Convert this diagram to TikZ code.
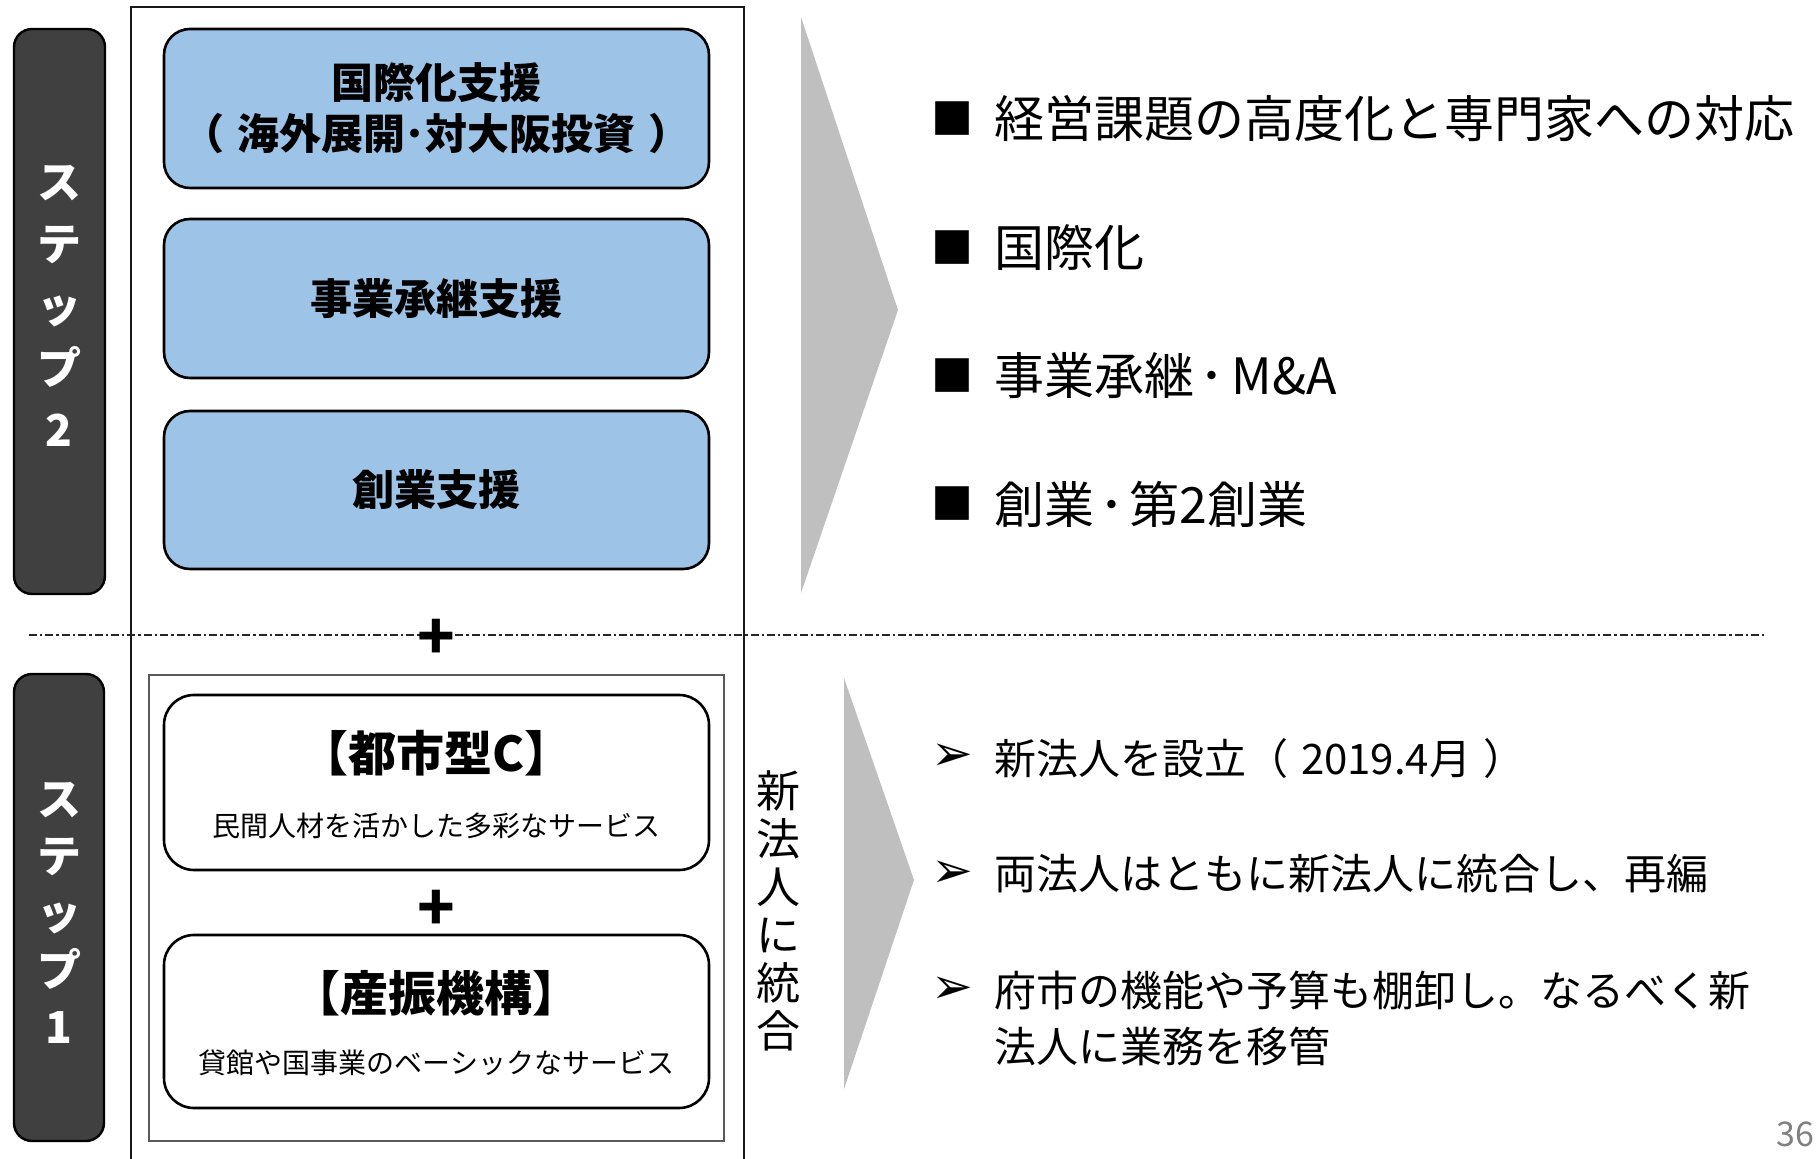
\documentclass[tikz,border=0pt]{standalone}
\usepackage{fontspec}
\setmainfont{Noto Sans CJK JP}
\newfontfamily\dvfont{DejaVu Sans}
\definecolor{stepgray}{HTML}{404040}
\definecolor{boxblue}{HTML}{9DC3E6}
\definecolor{arrowgray}{HTML}{BFBFBF}
\definecolor{numgray}{HTML}{808080}
\definecolor{framegray}{HTML}{595959}
\tikzset{
  stepbox/.style={draw=black, line width=1.2pt, fill=stepgray, rounded corners=9pt, inner sep=0pt},
  steplabel/.style={text=white, align=center, font=\bfseries\fontsize{22}{31}\selectfont},
  bluebox/.style={draw=black, line width=1.3pt, fill=boxblue, rounded corners=13pt, minimum width=272.5pt, align=center, font=\bfseries\fontsize{21}{25.5}\selectfont},
  whitebox/.style={draw=black, line width=1.3pt, fill=white, rounded corners=15pt, minimum width=272.5pt, inner sep=0pt},
  boxtitle/.style={font=\bfseries\fontsize{24}{26}\selectfont},
  boxsub/.style={font=\fontsize{14}{16}\selectfont},
  plusmark/.style={font=\bfseries\fontsize{31}{31}\selectfont, inner sep=0pt},
  bigitem/.style={anchor=west, inner sep=0pt, font=\fontsize{25}{28}\selectfont},
  smallitem/.style={anchor=west, inner sep=0pt, align=left, font=\fontsize{21}{28}\selectfont},
  sqbullet/.style={inner sep=0pt, font=\fontsize{21}{21}\selectfont},
  arbullet/.style={inner sep=0pt, font=\dvfont\fontsize{25}{25}\selectfont},
  chevron/.style={fill=arrowgray, draw=none},
  dashdotline/.style={draw=black!85, line width=0.6pt, dash pattern=on 4pt off 1.5pt on 1.2pt off 1.5pt},
}
\begin{document}
\begin{tikzpicture}[x=0.5pt,y=-0.5pt]
\useasboundingbox (0,0) rectangle (1816,1159);
% outer frame
\draw[line width=0.8pt, draw=black!90] (131,1165) -- (131,7) -- (744,7) -- (744,1165);
% dash-dot separator
\draw[dashdotline] (29,635) -- (1766,635);
% step boxes
\node[stepbox, minimum width=45.5pt, minimum height=282.5pt] (s2) at (59.5,311.5) {};
\node[steplabel] (s2t) at (59,306) {ス\\テ\\ッ\\プ\\2};
\node[stepbox, minimum width=45pt, minimum height=233.5pt] (s1) at (59,907.5) {};
\node[steplabel, font=\bfseries\fontsize{22}{28.5}\selectfont] (s1t) at (59,913) {ス\\テ\\ッ\\プ\\1};
% step 2 boxes
\node[bluebox, minimum height=79.5pt] (b1) at (436.5,108.5) {国際化支援\\（\hspace{0.3em}海外展開･対大阪投資\hspace{0.3em}）};
\node[bluebox, minimum height=79.5pt] (b2) at (436.5,298.5) {事業承継支援};
\node[bluebox, minimum height=79pt] (b3) at (436.5,490) {創業支援};
% plus on separator
\node[plusmark] (p1) at (436,639) {+};
% step 1 frame
\node[draw=framegray, line width=0.8pt, minimum width=287.5pt, minimum height=233pt, inner sep=0pt] (inner) at (436.5,908) {};
\node[whitebox, minimum height=87.5pt] (w1) at (436.5,782.5) {};
\node[boxtitle] (w1t) at (436.5,753) {【都市型C】};
\node[boxsub] (w1s) at (436.5,826) {民間人材を活かした多彩なサービス};
\node[plusmark] (p2) at (436,910) {+};
\node[whitebox, minimum height=86.5pt] (w2) at (436.5,1021.5) {};
\node[boxtitle] (w2t) at (436.5,993) {【産振機構】};
\node[boxsub] (w2s) at (436.5,1063) {貸館や国事業のベーシックなサービス};
% vertical text
\node[align=center, font=\fontsize{22}{24}\selectfont, inner sep=0pt] (merge) at (778,911) {新\\法\\人\\に\\統\\合};
% chevrons
\fill[chevron] (801,17) -- (898,310) -- (801,593) -- cycle;
\fill[chevron] (844,678) -- (914,880) -- (844,1089) -- cycle;
% upper list
\node[sqbullet] (q1) at (952,119) {■};
\node[bigitem] (t1) at (994,119) {経営課題の高度化と専門家への対応};
\node[sqbullet] (q2) at (952,248) {■};
\node[bigitem] (t2) at (994,248) {国際化};
\node[sqbullet] (q3) at (952,376) {■};
\node[bigitem] (t3) at (994,376) {事業承継\hspace{0.1em}･\hspace{0.15em}M\&A};
\node[sqbullet] (q4) at (952,504) {■};
\node[bigitem] (t4) at (994,504) {創業\hspace{0.1em}･\hspace{0.1em}第2創業};
% lower list
\node[arbullet] (a1) at (952,757) {➢};
\node[smallitem] (u1) at (994,759) {新法人を設立（\hspace{0.3em}2019.4月\hspace{0.3em}）};
\node[arbullet] (a2) at (952,874) {➢};
\node[smallitem] (u2) at (994,874) {両法人はともに新法人に統合し、再編};
\node[arbullet] (a3) at (952,990) {➢};
\node[smallitem] (u3) at (994,1018) {府市の機能や予算も棚卸し。なるべく新\\法人に業務を移管};
% page number
\node[text=numgray, font=\fontsize{17}{17}\selectfont, inner sep=0pt, anchor=east] (pg) at (1815,1134) {36};
\end{tikzpicture}
\end{document}
